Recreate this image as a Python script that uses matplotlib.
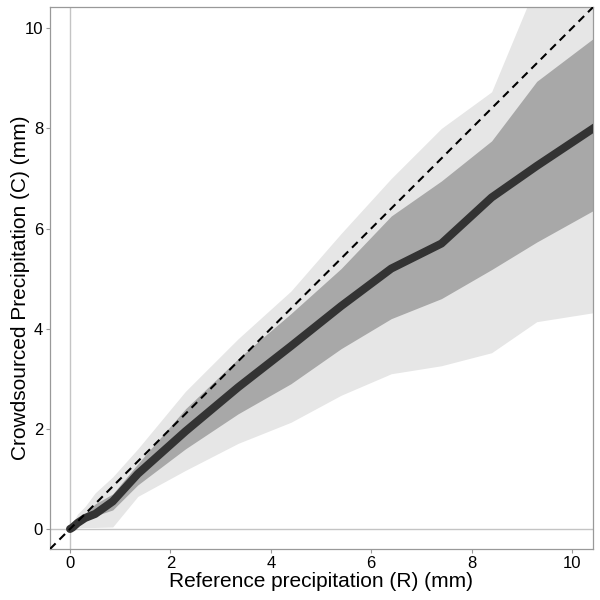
# plot.py
# Crowdsourced vs reference precipitation, median with two quantile bands
import matplotlib
matplotlib.use("Agg")
import matplotlib.pyplot as plt

# reference precipitation (bin positions, mm)
ref_mm = [0.0, 0.05, 0.15, 0.3, 0.5, 0.85, 1.35, 2.3, 3.35, 4.4,
          5.4, 6.4, 7.4, 8.4, 9.3, 10.5]
# median crowdsourced precipitation
median_c = [0.0, 0.03, 0.12, 0.22, 0.3, 0.55, 1.1, 1.95, 2.83, 3.65,
            4.45, 5.2, 5.7, 6.62, 7.25, 8.05]
# inner band (dark)
inner_lo = [0.0, 0.02, 0.1, 0.2, 0.26, 0.38, 0.88, 1.6, 2.3, 2.9,
            3.6, 4.2, 4.6, 5.18, 5.73, 6.4]
inner_hi = [0.0, 0.05, 0.18, 0.3, 0.5, 0.7, 1.3, 2.4, 3.4, 4.3,
            5.2, 6.25, 6.95, 7.75, 8.94, 9.85]
# outer band (light)
outer_lo = [0.0, 0.0, 0.02, 0.03, 0.03, 0.04, 0.65, 1.17, 1.71, 2.13,
            2.67, 3.1, 3.26, 3.52, 4.14, 4.33]
outer_hi = [0.0, 0.12, 0.3, 0.45, 0.72, 1.04, 1.6, 2.75, 3.8, 4.75,
            5.9, 7.0, 8.0, 8.73, 10.9, 11.6]

lims = (-0.4, 10.42)
font = ["Liberation Sans", "DejaVu Sans"]

def main():
    fig = plt.figure(figsize=(6, 6), dpi=100)
    ax = fig.add_axes([0.0833, 0.085, 0.905, 0.903])

    ax.axhline(0, color="#c4c4c4", lw=1.0, zorder=0)
    ax.axvline(0, color="#c4c4c4", lw=1.0, zorder=0)

    ax.fill_between(ref_mm, outer_lo, outer_hi, color="#e6e6e6", lw=0, zorder=1)
    ax.fill_between(ref_mm, inner_lo, inner_hi, color="#a8a8a8", lw=0, zorder=2)
    ax.plot(ref_mm, median_c, color="#333333", lw=5.8,
            solid_capstyle="round", solid_joinstyle="round", zorder=3)
    ax.plot(lims, lims, color="black", lw=1.5, dashes=(3.8, 2.6), zorder=4)

    ax.set_xlim(*lims)
    ax.set_ylim(*lims)
    ax.set_xticks([0, 2, 4, 6, 8, 10])
    ax.set_yticks([0, 2, 4, 6, 8, 10])

    for s in ax.spines.values():
        s.set_color("#999999")
        s.set_linewidth(0.9)
    ax.tick_params(length=3, width=0.8, color="#999999", labelsize=12,
                   labelcolor="black", pad=2)
    for lab in ax.get_xticklabels() + ax.get_yticklabels():
        lab.set_family(font)

    ax.set_xlabel("Reference precipitation (R) (mm)", fontsize=15,
                  family=font, labelpad=1)
    ax.set_ylabel("Crowdsourced Precipitation (C) (mm)", fontsize=15,
                  family=font)
    ax.yaxis.set_label_coords(-0.036, 0.483)

    fig.savefig("out.png", dpi=100)

main()
